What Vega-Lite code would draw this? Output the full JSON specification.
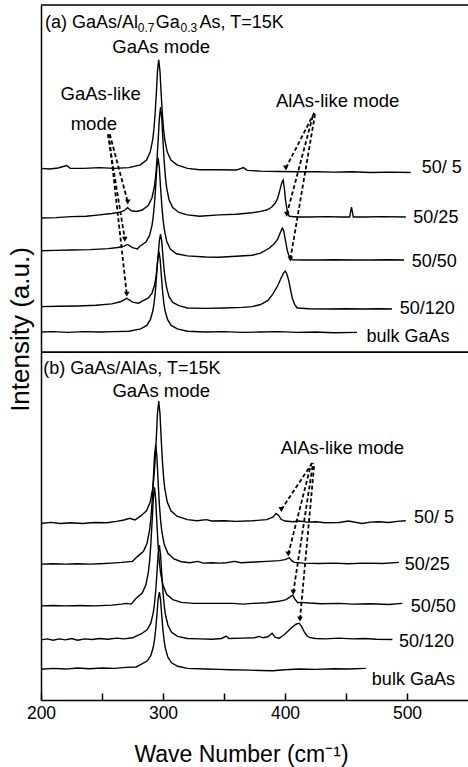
{
  "$schema": "https://vega.github.io/schema/vega-lite/v6.json",
  "width": 427,
  "height": 695,
  "autosize": {"type": "none"},
  "padding": {"left": 41, "top": 5, "right": 0, "bottom": 67},
  "background": "white",
  "config": {
    "view": {"stroke": null},
    "font": "Liberation Sans",
    "axis": {"grid": false, "domainColor": "black", "domainWidth": 1.5, "tickColor": "black", "tickWidth": 1.5, "labelColor": "black", "titleColor": "black", "labelFont": "Liberation Sans", "titleFont": "Liberation Sans", "titleFontWeight": "normal"}
  },
  "datasets": {
    "spec": [
      {"c":"a1","x":200,"y":76.5},{"c":"a1","x":207,"y":76.4},{"c":"a1","x":214,"y":76.55},{"c":"a1","x":221,"y":76.9},{"c":"a1","x":224,"y":76.5},{"c":"a1","x":235,"y":76.5},{"c":"a1","x":248,"y":76.6},{"c":"a1","x":260,"y":76.5},{"c":"a1","x":272,"y":76.6},{"c":"a1","x":281.5,"y":77.0},{"c":"a1","x":286.5,"y":77.7},{"c":"a1","x":289.5,"y":78.83},{"c":"a1","x":291.5,"y":80.56},{"c":"a1","x":292.5,"y":82.05},{"c":"a1","x":293.5,"y":84.25},{"c":"a1","x":294.5,"y":87.23},{"c":"a1","x":295.5,"y":90.53},{"c":"a1","x":296.5,"y":92.1},{"c":"a1","x":297.5,"y":90.53},{"c":"a1","x":298.5,"y":87.23},{"c":"a1","x":299.5,"y":84.25},{"c":"a1","x":300.5,"y":82.05},{"c":"a1","x":301.5,"y":80.56},{"c":"a1","x":303.5,"y":78.83},{"c":"a1","x":306.5,"y":77.7},{"c":"a1","x":311.5,"y":77.0},{"c":"a1","x":320,"y":76.5},{"c":"a1","x":330,"y":76.3},{"c":"a1","x":345,"y":76.3},{"c":"a1","x":360,"y":76.25},{"c":"a1","x":366,"y":76.6},{"c":"a1","x":369,"y":76.2},{"c":"a1","x":380,"y":76.1},{"c":"a1","x":395,"y":76.05},{"c":"a1","x":410,"y":76.0},{"c":"a1","x":425,"y":76.0},{"c":"a1","x":440,"y":75.95},{"c":"a1","x":455,"y":76.0},{"c":"a1","x":470,"y":75.9},{"c":"a1","x":485,"y":75.95},{"c":"a1","x":503,"y":75.9},

      {"c":"a2","x":200,"y":69.35},{"c":"a2","x":212,"y":69.4},{"c":"a2","x":225,"y":69.55},{"c":"a2","x":237,"y":69.6},{"c":"a2","x":248,"y":69.8},{"c":"a2","x":258,"y":70.0},{"c":"a2","x":265,"y":70.2},{"c":"a2","x":268,"y":70.4},{"c":"a2","x":271,"y":70.85},{"c":"a2","x":274,"y":70.4},{"c":"a2","x":278,"y":70.3},{"c":"a2","x":283,"y":70.5},{"c":"a2","x":288,"y":71.17},{"c":"a2","x":291,"y":72.27},{"c":"a2","x":293,"y":73.95},{"c":"a2","x":294,"y":75.4},{"c":"a2","x":295,"y":77.55},{"c":"a2","x":296,"y":80.46},{"c":"a2","x":297,"y":83.67},{"c":"a2","x":298,"y":85.3},{"c":"a2","x":299,"y":83.6},{"c":"a2","x":300,"y":80.4},{"c":"a2","x":301,"y":77.4},{"c":"a2","x":302,"y":75.2},{"c":"a2","x":303,"y":73.7},{"c":"a2","x":305,"y":71.95},{"c":"a2","x":308,"y":70.85},{"c":"a2","x":313,"y":70.15},{"c":"a2","x":320,"y":69.8},{"c":"a2","x":330,"y":69.6},{"c":"a2","x":346,"y":69.8},{"c":"a2","x":360,"y":69.9},{"c":"a2","x":373,"y":70.1},{"c":"a2","x":380,"y":70.3},{"c":"a2","x":385,"y":70.5},{"c":"a2","x":389,"y":70.9},{"c":"a2","x":392,"y":71.5},{"c":"a2","x":394,"y":72.2},{"c":"a2","x":396,"y":73.5},{"c":"a2","x":397.5,"y":74.5},{"c":"a2","x":398.5,"y":74.8},{"c":"a2","x":399.5,"y":73.6},{"c":"a2","x":400.5,"y":71.8},{"c":"a2","x":402,"y":70.2},{"c":"a2","x":403.5,"y":69.6},{"c":"a2","x":410,"y":69.5},{"c":"a2","x":420,"y":69.5},{"c":"a2","x":435,"y":69.55},{"c":"a2","x":445,"y":69.5},{"c":"a2","x":453,"y":69.5},{"c":"a2","x":454.5,"y":70.9},{"c":"a2","x":456,"y":69.5},{"c":"a2","x":465,"y":69.5},{"c":"a2","x":480,"y":69.55},{"c":"a2","x":499,"y":69.5},

      {"c":"a3","x":200,"y":64.65},{"c":"a3","x":212,"y":64.7},{"c":"a3","x":225,"y":64.75},{"c":"a3","x":240,"y":64.8},{"c":"a3","x":255,"y":64.95},{"c":"a3","x":263,"y":65.1},{"c":"a3","x":268,"y":65.3},{"c":"a3","x":271,"y":65.55},{"c":"a3","x":275,"y":65.1},{"c":"a3","x":279,"y":64.9},{"c":"a3","x":281,"y":65.3},{"c":"a3","x":286,"y":65.9},{"c":"a3","x":289,"y":66.85},{"c":"a3","x":291,"y":68.3},{"c":"a3","x":292,"y":69.55},{"c":"a3","x":293,"y":71.4},{"c":"a3","x":294,"y":73.9},{"c":"a3","x":295,"y":76.7},{"c":"a3","x":296,"y":78.0},{"c":"a3","x":297,"y":76.6},{"c":"a3","x":298,"y":73.7},{"c":"a3","x":299,"y":71.2},{"c":"a3","x":300,"y":69.2},{"c":"a3","x":301,"y":67.8},{"c":"a3","x":303,"y":66.0},{"c":"a3","x":306,"y":64.9},{"c":"a3","x":311,"y":64.2},{"c":"a3","x":320,"y":63.9},{"c":"a3","x":335,"y":63.75},{"c":"a3","x":346,"y":63.7},{"c":"a3","x":360,"y":63.85},{"c":"a3","x":373,"y":64.0},{"c":"a3","x":380,"y":64.3},{"c":"a3","x":387,"y":65.0},{"c":"a3","x":391,"y":65.6},{"c":"a3","x":394,"y":66.3},{"c":"a3","x":396,"y":67.2},{"c":"a3","x":397.8,"y":67.9},{"c":"a3","x":399,"y":67.5},{"c":"a3","x":400.5,"y":66.0},{"c":"a3","x":402,"y":64.6},{"c":"a3","x":403.5,"y":63.8},{"c":"a3","x":406,"y":63.35},{"c":"a3","x":415,"y":63.3},{"c":"a3","x":428,"y":63.3},{"c":"a3","x":440,"y":63.35},{"c":"a3","x":455,"y":63.3},{"c":"a3","x":470,"y":63.3},{"c":"a3","x":485,"y":63.35},{"c":"a3","x":497.6,"y":63.3},

      {"c":"a4","x":200,"y":56.6},{"c":"a4","x":215,"y":56.65},{"c":"a4","x":230,"y":56.7},{"c":"a4","x":245,"y":56.8},{"c":"a4","x":258,"y":57.0},{"c":"a4","x":265,"y":57.3},{"c":"a4","x":270.3,"y":57.8},{"c":"a4","x":275,"y":57.25},{"c":"a4","x":280,"y":57.1},{"c":"a4","x":283,"y":57.4},{"c":"a4","x":288,"y":57.85},{"c":"a4","x":291,"y":58.55},{"c":"a4","x":293,"y":59.65},{"c":"a4","x":294,"y":60.6},{"c":"a4","x":295,"y":62.0},{"c":"a4","x":296,"y":63.9},{"c":"a4","x":297,"y":66.05},{"c":"a4","x":298,"y":67.05},{"c":"a4","x":299,"y":65.95},{"c":"a4","x":300,"y":63.7},{"c":"a4","x":301,"y":61.7},{"c":"a4","x":302,"y":60.3},{"c":"a4","x":303,"y":59.3},{"c":"a4","x":305,"y":58.0},{"c":"a4","x":308,"y":57.2},{"c":"a4","x":313,"y":56.75},{"c":"a4","x":320,"y":56.4},{"c":"a4","x":335,"y":56.35},{"c":"a4","x":350,"y":56.4},{"c":"a4","x":365,"y":56.5},{"c":"a4","x":373,"y":56.6},{"c":"a4","x":380,"y":56.9},{"c":"a4","x":386,"y":57.5},{"c":"a4","x":390,"y":58.4},{"c":"a4","x":394,"y":59.6},{"c":"a4","x":397,"y":60.8},{"c":"a4","x":399,"y":61.5},{"c":"a4","x":400.3,"y":61.7},{"c":"a4","x":401.5,"y":61.3},{"c":"a4","x":403,"y":60.4},{"c":"a4","x":404.5,"y":59.1},{"c":"a4","x":406,"y":57.8},{"c":"a4","x":408,"y":56.9},{"c":"a4","x":410,"y":56.4},{"c":"a4","x":420,"y":56.3},{"c":"a4","x":435,"y":56.25},{"c":"a4","x":450,"y":56.3},{"c":"a4","x":465,"y":56.25},{"c":"a4","x":477,"y":56.3},{"c":"a4","x":487.7,"y":56.25},

      {"c":"a5","x":200,"y":52.95},{"c":"a5","x":210,"y":53.0},{"c":"a5","x":222,"y":52.9},{"c":"a5","x":235,"y":53.0},{"c":"a5","x":248,"y":52.95},{"c":"a5","x":260,"y":53.0},{"c":"a5","x":272,"y":53.05},{"c":"a5","x":281.7,"y":53.4},{"c":"a5","x":286.7,"y":53.9},{"c":"a5","x":289.7,"y":54.75},{"c":"a5","x":291.7,"y":56.0},{"c":"a5","x":292.7,"y":57.1},{"c":"a5","x":293.7,"y":58.7},{"c":"a5","x":294.7,"y":60.95},{"c":"a5","x":295.7,"y":63.35},{"c":"a5","x":296.7,"y":64.5},{"c":"a5","x":297.7,"y":63.35},{"c":"a5","x":298.7,"y":60.95},{"c":"a5","x":299.7,"y":58.7},{"c":"a5","x":300.7,"y":57.1},{"c":"a5","x":301.7,"y":56.0},{"c":"a5","x":303.7,"y":54.75},{"c":"a5","x":306.7,"y":53.9},{"c":"a5","x":311.7,"y":53.4},{"c":"a5","x":320,"y":53.05},{"c":"a5","x":335,"y":52.95},{"c":"a5","x":350,"y":53.0},{"c":"a5","x":365,"y":52.9},{"c":"a5","x":380,"y":52.95},{"c":"a5","x":395,"y":53.0},{"c":"a5","x":410,"y":52.9},{"c":"a5","x":425,"y":52.95},{"c":"a5","x":440,"y":52.85},{"c":"a5","x":459,"y":52.9},

      {"c":"b1","x":200,"y":25.4},{"c":"b1","x":208,"y":25.55},{"c":"b1","x":216,"y":25.4},{"c":"b1","x":224,"y":25.5},{"c":"b1","x":234,"y":25.4},{"c":"b1","x":244,"y":25.55},{"c":"b1","x":254,"y":25.5},{"c":"b1","x":262,"y":25.7},{"c":"b1","x":268,"y":25.9},{"c":"b1","x":272.8,"y":26.15},{"c":"b1","x":277,"y":25.9},{"c":"b1","x":281.5,"y":26.45},{"c":"b1","x":286.5,"y":27.23},{"c":"b1","x":289.5,"y":28.47},{"c":"b1","x":291.5,"y":30.36},{"c":"b1","x":292.5,"y":31.99},{"c":"b1","x":293.5,"y":34.4},{"c":"b1","x":294.5,"y":37.67},{"c":"b1","x":295.5,"y":41.28},{"c":"b1","x":296.5,"y":43.0},{"c":"b1","x":297.5,"y":41.28},{"c":"b1","x":298.5,"y":37.67},{"c":"b1","x":299.5,"y":34.4},{"c":"b1","x":300.5,"y":31.99},{"c":"b1","x":301.5,"y":30.36},{"c":"b1","x":303.5,"y":28.47},{"c":"b1","x":306.5,"y":27.23},{"c":"b1","x":311.5,"y":26.45},{"c":"b1","x":320,"y":25.95},{"c":"b1","x":328,"y":25.8},{"c":"b1","x":335.5,"y":25.95},{"c":"b1","x":340,"y":25.75},{"c":"b1","x":350,"y":25.8},{"c":"b1","x":360,"y":25.7},{"c":"b1","x":373.6,"y":25.8},{"c":"b1","x":385,"y":25.95},{"c":"b1","x":390,"y":26.3},{"c":"b1","x":392.7,"y":26.85},{"c":"b1","x":395,"y":26.5},{"c":"b1","x":396.8,"y":26.0},{"c":"b1","x":400,"y":25.75},{"c":"b1","x":406.3,"y":25.65},{"c":"b1","x":412,"y":25.75},{"c":"b1","x":418,"y":25.6},{"c":"b1","x":425.4,"y":25.65},{"c":"b1","x":433,"y":25.5},{"c":"b1","x":444.4,"y":25.55},{"c":"b1","x":452,"y":25.75},{"c":"b1","x":463.2,"y":25.4},{"c":"b1","x":470,"y":25.6},{"c":"b1","x":477.1,"y":25.65},{"c":"b1","x":485,"y":25.55},{"c":"b1","x":492,"y":25.7},{"c":"b1","x":499,"y":25.8},

      {"c":"b2","x":200,"y":19.55},{"c":"b2","x":210,"y":19.6},{"c":"b2","x":220,"y":19.55},{"c":"b2","x":230,"y":19.6},{"c":"b2","x":240,"y":19.55},{"c":"b2","x":248,"y":19.6},{"c":"b2","x":258,"y":19.7},{"c":"b2","x":266,"y":19.8},{"c":"b2","x":275,"y":19.95},{"c":"b2","x":279,"y":20.63},{"c":"b2","x":284,"y":21.39},{"c":"b2","x":287,"y":22.59},{"c":"b2","x":289,"y":24.43},{"c":"b2","x":290,"y":26.0},{"c":"b2","x":291,"y":28.35},{"c":"b2","x":292,"y":31.5},{"c":"b2","x":293,"y":35.0},{"c":"b2","x":294,"y":36.7},{"c":"b2","x":295,"y":35.0},{"c":"b2","x":296,"y":31.4},{"c":"b2","x":297,"y":28.2},{"c":"b2","x":298,"y":25.9},{"c":"b2","x":299,"y":24.3},{"c":"b2","x":301,"y":22.4},{"c":"b2","x":304,"y":21.1},{"c":"b2","x":309,"y":20.3},{"c":"b2","x":315,"y":19.9},{"c":"b2","x":322,"y":19.75},{"c":"b2","x":328.6,"y":19.95},{"c":"b2","x":333,"y":19.7},{"c":"b2","x":340,"y":19.75},{"c":"b2","x":346.3,"y":19.7},{"c":"b2","x":352,"y":19.75},{"c":"b2","x":358.6,"y":19.95},{"c":"b2","x":364,"y":19.75},{"c":"b2","x":375,"y":19.85},{"c":"b2","x":385,"y":19.95},{"c":"b2","x":395.4,"y":20.05},{"c":"b2","x":400,"y":20.2},{"c":"b2","x":403.5,"y":20.45},{"c":"b2","x":405.5,"y":20.05},{"c":"b2","x":407.6,"y":19.8},{"c":"b2","x":415,"y":19.7},{"c":"b2","x":428,"y":19.65},{"c":"b2","x":440,"y":19.7},{"c":"b2","x":452,"y":19.6},{"c":"b2","x":465,"y":19.7},{"c":"b2","x":480,"y":19.65},{"c":"b2","x":493.5,"y":19.8},

      {"c":"b3","x":200,"y":13.55},{"c":"b3","x":210,"y":13.6},{"c":"b3","x":220,"y":13.55},{"c":"b3","x":232,"y":13.6},{"c":"b3","x":245,"y":13.55},{"c":"b3","x":258,"y":13.65},{"c":"b3","x":266,"y":13.8},{"c":"b3","x":270,"y":13.9},{"c":"b3","x":274,"y":13.8},{"c":"b3","x":278,"y":14.63},{"c":"b3","x":283,"y":15.38},{"c":"b3","x":286,"y":16.57},{"c":"b3","x":288,"y":18.4},{"c":"b3","x":289,"y":19.98},{"c":"b3","x":290,"y":22.3},{"c":"b3","x":291,"y":25.45},{"c":"b3","x":292,"y":28.94},{"c":"b3","x":293,"y":30.6},{"c":"b3","x":294,"y":28.9},{"c":"b3","x":295,"y":25.4},{"c":"b3","x":296,"y":22.2},{"c":"b3","x":297,"y":19.9},{"c":"b3","x":298,"y":18.3},{"c":"b3","x":300,"y":16.5},{"c":"b3","x":303,"y":15.2},{"c":"b3","x":308,"y":14.45},{"c":"b3","x":315,"y":14.05},{"c":"b3","x":325,"y":13.9},{"c":"b3","x":340,"y":13.9},{"c":"b3","x":357,"y":13.9},{"c":"b3","x":366,"y":13.8},{"c":"b3","x":373.6,"y":13.9},{"c":"b3","x":385,"y":14.0},{"c":"b3","x":395,"y":14.2},{"c":"b3","x":400.9,"y":14.45},{"c":"b3","x":404,"y":14.8},{"c":"b3","x":406.3,"y":15.1},{"c":"b3","x":408,"y":14.55},{"c":"b3","x":410.4,"y":14.0},{"c":"b3","x":413,"y":14.05},{"c":"b3","x":420,"y":13.95},{"c":"b3","x":430,"y":13.85},{"c":"b3","x":444.4,"y":13.9},{"c":"b3","x":455,"y":13.8},{"c":"b3","x":470,"y":13.85},{"c":"b3","x":485,"y":13.75},{"c":"b3","x":496.2,"y":13.9},

      {"c":"b4","x":200,"y":8.65},{"c":"b4","x":205,"y":8.8},{"c":"b4","x":210,"y":8.6},{"c":"b4","x":215,"y":8.8},{"c":"b4","x":220,"y":8.65},{"c":"b4","x":225,"y":8.85},{"c":"b4","x":230,"y":8.6},{"c":"b4","x":236,"y":8.8},{"c":"b4","x":242,"y":8.7},{"c":"b4","x":248,"y":8.85},{"c":"b4","x":255,"y":8.75},{"c":"b4","x":262,"y":8.9},{"c":"b4","x":268,"y":8.8},{"c":"b4","x":275,"y":8.95},{"c":"b4","x":282,"y":9.5},{"c":"b4","x":287,"y":10.1},{"c":"b4","x":290,"y":11.06},{"c":"b4","x":292,"y":12.52},{"c":"b4","x":293,"y":13.79},{"c":"b4","x":294,"y":15.65},{"c":"b4","x":295,"y":18.2},{"c":"b4","x":296,"y":20.97},{"c":"b4","x":297,"y":22.3},{"c":"b4","x":298,"y":20.9},{"c":"b4","x":299,"y":18.1},{"c":"b4","x":300,"y":15.5},{"c":"b4","x":301,"y":13.6},{"c":"b4","x":302,"y":12.3},{"c":"b4","x":304,"y":10.8},{"c":"b4","x":307,"y":9.75},{"c":"b4","x":312,"y":9.15},{"c":"b4","x":320,"y":8.85},{"c":"b4","x":330,"y":8.8},{"c":"b4","x":340,"y":8.75},{"c":"b4","x":348,"y":8.85},{"c":"b4","x":351.8,"y":9.2},{"c":"b4","x":354,"y":8.85},{"c":"b4","x":365,"y":8.9},{"c":"b4","x":375,"y":8.95},{"c":"b4","x":379,"y":9.15},{"c":"b4","x":382,"y":8.95},{"c":"b4","x":386,"y":9.1},{"c":"b4","x":389.4,"y":9.6},{"c":"b4","x":392,"y":9.0},{"c":"b4","x":395.4,"y":8.9},{"c":"b4","x":398,"y":9.2},{"c":"b4","x":400,"y":9.5},{"c":"b4","x":403,"y":10.0},{"c":"b4","x":406,"y":10.5},{"c":"b4","x":409,"y":10.9},{"c":"b4","x":411.7,"y":11.05},{"c":"b4","x":413.5,"y":10.6},{"c":"b4","x":415.8,"y":9.8},{"c":"b4","x":418,"y":9.25},{"c":"b4","x":420,"y":9.0},{"c":"b4","x":425,"y":8.85},{"c":"b4","x":433,"y":8.8},{"c":"b4","x":444.4,"y":8.9},{"c":"b4","x":455,"y":8.8},{"c":"b4","x":465,"y":8.85},{"c":"b4","x":475,"y":8.75},{"c":"b4","x":488,"y":8.7},

      {"c":"b5","x":200,"y":4.42},{"c":"b5","x":210,"y":4.55},{"c":"b5","x":220,"y":4.45},{"c":"b5","x":230,"y":4.6},{"c":"b5","x":240,"y":4.5},{"c":"b5","x":250,"y":4.6},{"c":"b5","x":260,"y":4.55},{"c":"b5","x":270,"y":4.7},{"c":"b5","x":278,"y":4.75},{"c":"b5","x":282,"y":5.11},{"c":"b5","x":287,"y":5.6},{"c":"b5","x":290,"y":6.39},{"c":"b5","x":292,"y":7.59},{"c":"b5","x":293,"y":8.62},{"c":"b5","x":294,"y":10.15},{"c":"b5","x":295,"y":12.22},{"c":"b5","x":296,"y":14.5},{"c":"b5","x":297,"y":15.54},{"c":"b5","x":298,"y":14.4},{"c":"b5","x":299,"y":12.1},{"c":"b5","x":300,"y":10.0},{"c":"b5","x":301,"y":8.45},{"c":"b5","x":302,"y":7.4},{"c":"b5","x":304,"y":6.15},{"c":"b5","x":307,"y":5.35},{"c":"b5","x":312,"y":4.85},{"c":"b5","x":320,"y":4.55},{"c":"b5","x":335,"y":4.45},{"c":"b5","x":346,"y":4.4},{"c":"b5","x":355,"y":4.35},{"c":"b5","x":370,"y":4.3},{"c":"b5","x":380,"y":4.25},{"c":"b5","x":390,"y":4.2},{"c":"b5","x":400,"y":4.35},{"c":"b5","x":412,"y":4.45},{"c":"b5","x":425,"y":4.4},{"c":"b5","x":440,"y":4.5},{"c":"b5","x":452,"y":4.45},{"c":"b5","x":466.2,"y":4.55}
    ],
    "arrows": [
      {"id":"A1","e":"s","x":256.4,"y":81.4},{"id":"A1","e":"t","x":271.1,"y":71.65},
      {"id":"A2","e":"s","x":254.8,"y":81.4},{"id":"A2","e":"t","x":268.7,"y":66.3},
      {"id":"A3","e":"s","x":255.6,"y":81.4},{"id":"A3","e":"t","x":270.3,"y":58.4},
      {"id":"B1","e":"s","x":424.0,"y":84.5},{"id":"B1","e":"t","x":400.7,"y":76.55},
      {"id":"B2","e":"s","x":423.2,"y":84.3},{"id":"B2","e":"t","x":401.5,"y":69.9},
      {"id":"B3","e":"s","x":424.8,"y":84.5},{"id":"B3","e":"t","x":404.4,"y":63.45},
      {"id":"C1","e":"s","x":422.3,"y":34.1},{"id":"C1","e":"t","x":397.0,"y":27.4},
      {"id":"C2","e":"s","x":421.5,"y":34.0},{"id":"C2","e":"t","x":402.7,"y":21.0},
      {"id":"C3","e":"s","x":423.0,"y":34.1},{"id":"C3","e":"t","x":406.8,"y":15.5},
      {"id":"C4","e":"s","x":424.0,"y":34.0},{"id":"C4","e":"t","x":412.3,"y":11.65}
    ],
    "annC": [
      {"t":"GaAs mode","x":298.5,"y":93.1},
      {"t":"GaAs-like","x":248.9,"y":86.3},
      {"t":"mode","x":243.3,"y":82.0},
      {"t":"AlAs-like mode","x":443.2,"y":85.36},
      {"t":"GaAs mode","x":298.6,"y":43.6},
      {"t":"AlAs-like mode","x":447.1,"y":35.4}
    ],
    "annL": [
      {"t":"(a) GaAs/Al","x":203.3,"y":96.65},
      {"t":"Ga","x":294.0,"y":96.65},
      {"t":"As, T=15K","x":330.0,"y":96.65},
      {"t":"(b) GaAs/AlAs, T=15K","x":201.9,"y":46.85},
      {"t":"50/ 5","x":512.0,"y":75.8},
      {"t":"50/25","x":505.2,"y":68.6},
      {"t":"50/50","x":503.8,"y":62.25},
      {"t":"50/120","x":494.0,"y":55.6},
      {"t":"bulk GaAs","x":466.8,"y":51.55},
      {"t":"50/ 5","x":505.7,"y":25.4},
      {"t":"50/25","x":498.1,"y":18.7},
      {"t":"50/50","x":503.0,"y":12.7},
      {"t":"50/120","x":493.5,"y":7.67},
      {"t":"bulk GaAs","x":471.2,"y":2.16}
    ],
    "annS": [
      {"t":"0.7","x":279.3,"y":96.16},
      {"t":"0.3","x":314.4,"y":96.16}
    ]
  },
  "layer": [
    {
      "data": {"name": "spec"},
      "mark": {"type": "line", "color": "black", "strokeWidth": 1.4, "interpolate": "linear"},
      "encoding": {
        "x": {"field": "x", "type": "quantitative", "title": "Wave Number (cm⁻¹)",
          "scale": {"domain": [200, 550], "nice": false, "zero": false},
          "axis": {"values": [200, 250, 300, 350, 400, 450, 500], "labelExpr": "datum.value % 100 === 0 ? datum.label : ''",
            "tickSize": -7, "labelPadding": 11, "labelFontSize": 17.5, "labelFlush": false, "labelOverlap": false,
            "titleFontSize": 23, "titleX": 200, "titleY": 61, "titleBaseline": "alphabetic", "titleAlign": "center",
            "encode": {"ticks": {"update": {"y2": {"signal": "datum.value % 100 === 0 ? -7 : -4"}}}}}},
        "y": {"field": "y", "type": "quantitative", "title": "Intensity (a.u.)",
          "scale": {"domain": [0, 100], "nice": false, "zero": false},
          "axis": {"ticks": false, "labels": false, "titleFontSize": 26, "titleX": -12.7, "titleY": 324, "titleBaseline": "alphabetic", "titleAlign": "center", "titleAngle": 270}},
        "detail": {"field": "c"}
      }
    },
    {
      "data": {"values": [{}]},
      "mark": {"type": "rule", "color": "black", "strokeWidth": 1.6},
      "encoding": {"y": {"datum": 100, "type": "quantitative", "title": "Intensity (a.u.)"}}
    },
    {
      "data": {"values": [{}]},
      "mark": {"type": "rule", "color": "black", "strokeWidth": 1.6},
      "encoding": {"y": {"datum": 50.05, "type": "quantitative", "title": "Intensity (a.u.)"}}
    },
    {
      "data": {"name": "arrows"},
      "mark": {"type": "line", "color": "black", "strokeWidth": 1.8, "strokeDash": [4, 2.5]},
      "encoding": {
        "x": {"field": "x", "type": "quantitative", "title": "Wave Number (cm⁻¹)"},
        "y": {"field": "y", "type": "quantitative", "title": "Intensity (a.u.)"},
        "detail": {"field": "id"}
      }
    },
    {
      "data": {"name": "arrows"},
      "transform": [{"filter": "datum.e === 't'"}],
      "mark": {"type": "point", "shape": "triangle-down", "filled": true, "color": "black", "opacity": 1, "size": 32},
      "encoding": {
        "x": {"field": "x", "type": "quantitative", "title": "Wave Number (cm⁻¹)"},
        "y": {"field": "y", "type": "quantitative", "title": "Intensity (a.u.)"}
      }
    },
    {
      "data": {"name": "annC"},
      "mark": {"type": "text", "align": "center", "baseline": "alphabetic", "fontSize": 18.5, "color": "black", "font": "Liberation Sans"},
      "encoding": {
        "x": {"field": "x", "type": "quantitative", "title": "Wave Number (cm⁻¹)"},
        "y": {"field": "y", "type": "quantitative", "title": "Intensity (a.u.)"},
        "text": {"field": "t"}
      }
    },
    {
      "data": {"name": "annL"},
      "mark": {"type": "text", "align": "left", "baseline": "alphabetic", "fontSize": 18, "color": "black", "font": "Liberation Sans"},
      "encoding": {
        "x": {"field": "x", "type": "quantitative", "title": "Wave Number (cm⁻¹)"},
        "y": {"field": "y", "type": "quantitative", "title": "Intensity (a.u.)"},
        "text": {"field": "t"}
      }
    },
    {
      "data": {"name": "annS"},
      "mark": {"type": "text", "align": "left", "baseline": "alphabetic", "fontSize": 12, "color": "black", "font": "Liberation Sans"},
      "encoding": {
        "x": {"field": "x", "type": "quantitative", "title": "Wave Number (cm⁻¹)"},
        "y": {"field": "y", "type": "quantitative", "title": "Intensity (a.u.)"},
        "text": {"field": "t"}
      }
    }
  ]
}
